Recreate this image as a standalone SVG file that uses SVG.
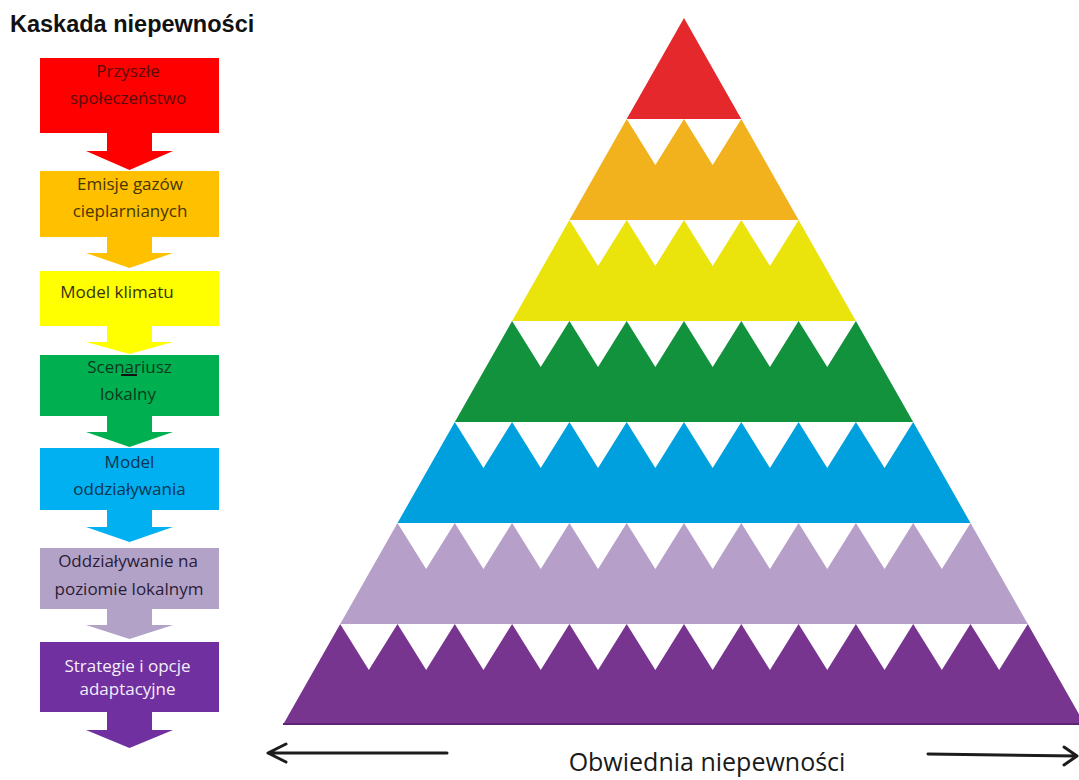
<svg xmlns="http://www.w3.org/2000/svg" width="1079" height="780" viewBox="0 0 1079 780">
<style>
.lbl{font-family:"Open Sans","Liberation Sans",sans-serif;font-size:17px;text-anchor:middle}
.title{font-family:"Liberation Sans",Arial,sans-serif;font-size:23.5px;font-weight:700;fill:#111}
.cap{font-family:"Open Sans","Liberation Sans",sans-serif;font-size:25px;fill:#1a1a1a;text-anchor:middle}
.env{fill:none;stroke:#1c1c1c;stroke-width:3;stroke-linecap:round;stroke-linejoin:round}
</style>
<rect width="1079" height="780" fill="#ffffff"/>
<text class="title" x="10" y="32">Kaskada niepewności</text>

<g id="cascade">
<g id="c1">
<rect x="40" y="58" width="179" height="75" fill="#ff0000"/>
<path d="M107,133 H152 V151 H173 L129.5,170 L86,151 H107 Z" fill="#ff0000"/>
<text class="lbl" x="128" y="77" fill="#5c0b0b">Przyszłe</text>
<text class="lbl" x="128" y="104" fill="#5c0b0b">społeczeństwo</text>
</g>
<g id="c2">
<rect x="40" y="171" width="179" height="66" fill="#ffc000"/>
<path d="M107,237 H152 V253 H173 L129.5,268 L86,253 H107 Z" fill="#ffc000"/>
<text class="lbl" x="130" y="190" fill="#463600">Emisje gazów</text>
<text class="lbl" x="130" y="217" fill="#463600">cieplarnianych</text>
</g>
<g id="c3">
<rect x="40" y="271" width="179" height="55" fill="#ffff00"/>
<path d="M107,326 H152 V342 H173 L129.5,354 L86,342 H107 Z" fill="#ffff00"/>
<text class="lbl" x="117" y="298" fill="#33330a">Model klimatu</text>
</g>
<g id="c4">
<rect x="40" y="355" width="179" height="61" fill="#00b050"/>
<path d="M107,416 H152 V432 H173 L129.5,447 L86,432 H107 Z" fill="#00b050"/>
<text class="lbl" x="129.5" y="373" fill="#0b3a1c">Scenariusz</text>
<line x1="121" y1="375" x2="137" y2="375" stroke="#111" stroke-width="2"/>
<text class="lbl" x="128" y="400" fill="#0b3a1c">lokalny</text>
</g>
<g id="c5">
<rect x="40" y="448" width="179" height="62" fill="#00b0f0"/>
<path d="M107,510 H152 V527 H173 L129.5,542 L86,527 H107 Z" fill="#00b0f0"/>
<text class="lbl" x="129.5" y="468" fill="#0c3550">Model</text>
<text class="lbl" x="129.5" y="495" fill="#0c3550">oddziaływania</text>
</g>
<g id="c6">
<rect x="40" y="548" width="179" height="61" fill="#b3a2c7"/>
<path d="M107,609 H152 V625 H173 L129.5,639 L86,625 H107 Z" fill="#b3a2c7"/>
<text class="lbl" x="128" y="567" fill="#2a1c38">Oddziaływanie na</text>
<text class="lbl" x="129" y="595" fill="#2a1c38">poziomie lokalnym</text>
</g>
<g id="c7">
<rect x="40" y="642" width="179" height="70" fill="#7030a0"/>
<path d="M107,712 H152 V730 H173 L129.5,748 L86,730 H107 Z" fill="#7030a0"/>
<text class="lbl" x="127.5" y="672" fill="#f4eef8">Strategie i opcje</text>
<text class="lbl" x="127.5" y="695" fill="#f4eef8">adaptacyjne</text>
</g>
</g>

<g id="pyramid">
<polygon id="p1" fill="#e4282c" points="684,18 741.3,119 626.7,119"/>
<polygon id="p2" fill="#f2b21d" points="626.7,119 655.35,165 684,119 712.65,165 741.3,119 798.6,220 569.4,220"/>
<polygon id="p3" fill="#ebe30c" points="569.4,220 598.05,266 626.7,220 655.35,266 684,220 712.65,266 741.3,220 769.95,266 798.6,220 855.9,321 512.1,321"/>
<polygon id="p4" fill="#13923e" points="512.1,321 540.75,367 569.4,321 598.05,367 626.7,321 655.35,367 684,321 712.65,367 741.3,321 769.95,367 798.6,321 827.25,367 855.9,321 913.2,422 454.8,422"/>
<polygon id="p5" fill="#00a0df" points="454.8,422 483.45,468 512.1,422 540.75,468 569.4,422 598.05,468 626.7,422 655.35,468 684,422 712.65,468 741.3,422 769.95,468 798.6,422 827.25,468 855.9,422 884.55,468 913.2,422 970.5,523 397.5,523"/>
<polygon id="p6" fill="#b6a0c9" points="397.5,523 426.15,569 454.8,523 483.45,569 512.1,523 540.75,569 569.4,523 598.05,569 626.7,523 655.35,569 684,523 712.65,569 741.3,523 769.95,569 798.6,523 827.25,569 855.9,523 884.55,569 913.2,523 941.85,569 970.5,523 1027.8,624 340.2,624"/>
<polygon id="p7" fill="#783590" points="340.2,624 368.85,670 397.5,624 426.15,670 454.8,624 483.45,670 512.1,624 540.75,670 569.4,624 598.05,670 626.7,624 655.35,670 684,624 712.65,670 741.3,624 769.95,670 798.6,624 827.25,670 855.9,624 884.55,670 913.2,624 941.85,670 970.5,624 999.15,670 1027.8,624 1085.1,725 282.9,725"/>
<line x1="283" y1="724" x2="1079" y2="724" stroke="#5f2474" stroke-width="2"/>
</g>

<g id="connectors">
<path class="env" d="M447,753 H268 M286,744 L268,753 L286,762"/>
<path class="env" d="M928,754 L1077,756 M1064,747 L1077,756 L1064,765"/>
</g>
<text class="cap" x="707" y="771">Obwiednia niepewności</text>
</svg>
